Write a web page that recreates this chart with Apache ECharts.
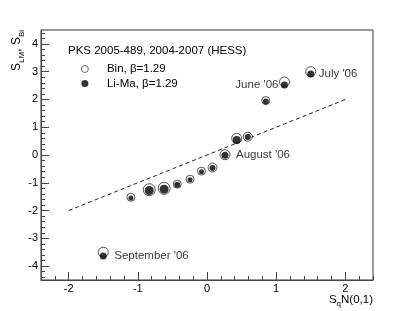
<!DOCTYPE html>
<html>
<head>
<meta charset="utf-8">
<script src="https://cdn.jsdelivr.net/npm/echarts@6/dist/echarts.min.js"></script>
<style>html,body{margin:0;padding:0;background:#fff}#c{width:415px;height:311px}</style>
</head>
<body>
<div id="c"></div>
<script>
// ---- data ----
const sqN = [-1.10, -0.835, -0.62, -0.43, -0.245, -0.08, 0.08, 0.26, 0.43, 0.59, 0.85, 1.12, 1.50, -1.50];
const binS = [-1.52, -1.25, -1.20, -1.05, -0.87, -0.58, -0.45, 0.01, 0.60, 0.66, 1.96, 2.63, 3.00, -3.50];
const liMaS = [-1.55, -1.28, -1.23, -1.07, -0.89, -0.60, -0.47, -0.01, 0.54, 0.65, 1.93, 2.52, 2.92, -3.64];
const binMarker = [8, 12, 12, 8, 8, 8, 9, 10, 10, 9, 8, 10, 10, 10];
const liMaMarker = [5, 9, 9, 6, 5, 5, 6, 7, 8, 6, 6, 7, 7, 7];
const annotationText = ["July '06", "June '06", "August '06", "September '06"];
const annotationIndex = [12, 11, 7, 13];
const refX = [-2, 2];
const refY = [-2, 2];
const xTicks = [-2, -1, 0, 1, 2];
const yTicks = [-4, -3, -2, -1, 0, 1, 2, 3, 4];
const legendTitle = "PKS 2005-489, 2004-2007 (HESS)";

const FONT = 'Liberation Sans, Arial, Helvetica, sans-serif';
const minorX = [], minorY = [];
for (let i = -12; i <= 12; i++) { const v = +(i * 0.2).toFixed(1); if (Math.abs(v - Math.round(v)) > 1e-6) minorX.push(v); }
for (let i = -22; i <= 22; i++) { const v = +(i * 0.2).toFixed(1); if (Math.abs(v - Math.round(v)) > 1e-6) minorY.push(v); }

const annoPos = ['right', 'left', 'right', 'right'];
const annoDist = [8, 6, 11, 11];
const annoData = annotationIndex.map((idx, k) => ({
  value: [sqN[idx], liMaS[idx]],
  label: { show: true, formatter: annotationText[k], position: annoPos[k], distance: annoDist[k] }
}));

const chart = echarts.init(document.getElementById('c'), null, { renderer: 'canvas' });
chart.setOption({
  animation: false,
  backgroundColor: '#fff',
  textStyle: { fontFamily: FONT },
  grid: { left: 41, right: 42, top: 30, bottom: 31, show: true, borderColor: '#333', borderWidth: 1, backgroundColor: 'transparent' },
  title: {
    text: legendTitle, left: 63, top: 40,
    textStyle: { fontFamily: FONT, fontSize: 11.5, fontWeight: 'normal', color: '#000' }
  },
  legend: {
    data: ['Bin, \u03b2=1.29', 'Li-Ma, \u03b2=1.29'],
    orient: 'vertical', left: 76, top: 57,
    itemWidth: 34, itemHeight: 7, itemGap: 0.5, symbolKeepAspect: true,
    itemStyle: { borderWidth: 0.8 },
    textStyle: { fontFamily: FONT, fontSize: 11.5, color: '#000', lineHeight: 14 }
  },
  xAxis: [
    {
      type: 'value', position: 'bottom', min: -2.4, max: 2.4,
      axisLine: { show: true, onZero: false, lineStyle: { color: '#444', width: 1 } },
      axisTick: { show: true, inside: true, length: 8, customValues: xTicks, lineStyle: { color: '#444' } },
      axisLabel: { show: true, customValues: xTicks, margin: 3, fontSize: 11, color: '#000', fontFamily: FONT },
      splitLine: { show: false }
    },
    {
      type: 'value', position: 'bottom', min: -2.4, max: 2.4,
      axisLine: { show: false, onZero: false },
      axisTick: { show: true, inside: true, length: 4, customValues: minorX, lineStyle: { color: '#444' } },
      axisLabel: { show: false }, splitLine: { show: false }
    }
  ],
  yAxis: [
    {
      type: 'value', position: 'left', min: -4.5, max: 4.5,
      axisLine: { show: true, onZero: false, lineStyle: { color: '#444', width: 1 } },
      axisTick: { show: true, inside: true, length: 8, customValues: yTicks, lineStyle: { color: '#444' } },
      axisLabel: { show: true, customValues: yTicks, margin: 3, fontSize: 11, color: '#000', fontFamily: FONT },
      splitLine: { show: false }
    },
    {
      type: 'value', position: 'left', min: -4.5, max: 4.5,
      axisLine: { show: false, onZero: false },
      axisTick: { show: true, inside: true, length: 4, customValues: minorY, lineStyle: { color: '#444' } },
      axisLabel: { show: false }, splitLine: { show: false }
    }
  ],
  graphic: [
    {
      type: 'text', x: 17, y: 30, rotation: Math.PI / 2,
      style: {
        text: '{m|S}{s|LM}{m|, S}{s|Bi}', align: 'right', verticalAlign: 'middle',
        rich: {
          m: { fontFamily: FONT, fontSize: 12, fill: '#000', verticalAlign: 'middle' },
          s: { fontFamily: FONT, fontSize: 8, fill: '#000', padding: [9, 0, 0, 0] }
        }
      }
    },
    {
      type: 'text', x: 373, y: 300,
      style: {
        text: '{m|S}{s|q}{m|N(0,1)}', align: 'right', verticalAlign: 'middle',
        rich: {
          m: { fontFamily: FONT, fontSize: 11.5, fill: '#000' },
          s: { fontFamily: FONT, fontSize: 8, fill: '#000', padding: [8, 0, 0, 0] }
        }
      }
    }
  ],
  series: [
    {
      type: 'line', name: 'ref', xAxisIndex: 0, yAxisIndex: 0,
      data: refX.map((x, i) => [x, refY[i]]),
      showSymbol: false, symbol: 'none', silent: true,
      lineStyle: { color: '#222', width: 1, type: [4, 3] }, z: 1
    },
    {
      type: 'scatter', name: 'Bin, \u03b2=1.29', xAxisIndex: 0, yAxisIndex: 0,
      data: sqN.map((x, i) => ({ value: [x, binS[i]], symbolSize: binMarker[i] })),
      symbol: 'circle',
      itemStyle: { color: '#fff', borderColor: '#111', borderWidth: 0.9 }, z: 2
    },
    {
      type: 'scatter', name: 'Li-Ma, \u03b2=1.29', xAxisIndex: 0, yAxisIndex: 0,
      data: sqN.map((x, i) => ({ value: [x, liMaS[i]], symbolSize: liMaMarker[i] })),
      symbol: 'circle',
      itemStyle: { color: '#000' }, z: 3
    },
    {
      type: 'scatter', name: 'annotations', xAxisIndex: 0, yAxisIndex: 0,
      data: annoData, symbolSize: 0, silent: true,
      label: { fontFamily: FONT, fontSize: 11.5, color: '#000' }, z: 4
    }
  ]
});
</script>
</body>
</html>
